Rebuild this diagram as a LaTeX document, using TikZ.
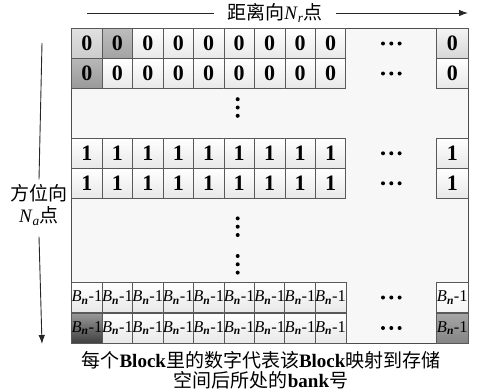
\documentclass[tikz,border=0pt]{standalone}
\usepackage{fontspec}
\setmainfont{Liberation Serif}
\newfontfamily\cjk{Noto Sans CJK SC}
\usetikzlibrary{arrows.meta}
\newcommand\bnlabel{\textit{B}\textsubscript{\textbf{\textit{n}}}-1}
\begin{document}
\begin{tikzpicture}[x=1pt,y=-1pt,
  cell/.style={draw=black!65, line width=0.6pt, inner sep=0pt,
    minimum width=30.45pt, minimum height=30pt,
    top color=white, bottom color=black!9,
    font=\fontsize{22}{22}\selectfont\bfseries},
  lastcell/.style={cell, minimum width=31.5pt},
  bncell/.style={font=\fontsize{16.5}{16.5}\selectfont},
  dot/.style={circle, fill=black, inner sep=0pt, minimum size=4pt},
  lbl/.style={font=\fontsize{19}{22}\selectfont, inner sep=0pt, align=center},
  axis/.style={line width=0.9pt, black!85},
  tip/.style={-{Latex[length=9pt,width=6.5pt]}}
]
\useasboundingbox (0,0) rectangle (479,391);

% frame
\node[draw=black!70, line width=0.8pt, fill=black!3, inner sep=0pt,
  minimum width=396.6pt, minimum height=315pt] (frame) at (270,185.8) {};

% row a (first row of 0)
\node[cell, top color=black!12, bottom color=black!20] (a1) at (86.9,43.5) {0};
\node[cell, top color=black!26, bottom color=black!36] (a2) at (117.4,43.5) {0};
\foreach \i in {3,...,9}{
  \node[cell] (a\i) at ({71.7+15.225+(\i-1)*30.45},43.5) {0};
}
\node[lastcell, top color=black!4, bottom color=black!16] (alast) at (452.3,43.5) {0};
% row b
\node[cell, top color=black!28, bottom color=black!40] (b1) at (86.9,73.5) {0};
\foreach \i in {2,...,9}{
  \node[cell] (b\i) at ({71.7+15.225+(\i-1)*30.45},73.5) {0};
}
\node[lastcell] (blast) at (452.3,73.5) {0};
% rows c, d (1)
\foreach \r/\y in {c/153.3, d/183.3}{
  \foreach \i in {1,...,9}{
    \node[cell] (\r\i) at ({71.7+15.225+(\i-1)*30.45},\y) {1};
  }
  \node[lastcell] (\r last) at (452.3,\y) {1};
}
% rows e, f (B_n - 1)
\foreach \i in {1,...,9}{
  \node[cell, bncell] (e\i) at ({71.7+15.225+(\i-1)*30.45},297.5) {\bnlabel};
}
\node[lastcell, bncell, bottom color=black!4] (elast) at (452.3,297.5) {\bnlabel};
\node[cell, bncell, top color=black!40, bottom color=black!75] (f1) at (86.9,328) {\bnlabel};
\foreach \i in {2,...,9}{
  \node[cell, bncell] (f\i) at ({71.7+15.225+(\i-1)*30.45},328) {\bnlabel};
}
\node[lastcell, bncell, top color=black!35, bottom color=black!48] (flast) at (452.3,328) {\bnlabel};

% horizontal ellipses
\foreach \r/\y in {a/43.5, b/73.5, c/153.3, d/183.3, e/297.5, f/328}{
  \foreach \k/\x in {1/383, 2/391.3, 3/399.6}{
    \node[dot] (h\r\k) at (\x,\y) {};
  }
}
% vertical ellipses
\foreach \s/\yc in {1/107.5, 2/226.7, 3/264.3}{
  \foreach \k/\d in {1/-8.3, 2/0, 3/8.3}{
    \node[dot] (v\s\k) at (237.7,\yc+\d) {};
  }
}

% top axis
\node[lbl] (toplbl) at (275,13) {{\cjk 距离向}\textit{N}\textsubscript{\textit{r}}{\cjk 点}};
\coordinate (tl) at (87,13);
\coordinate (tr) at (468,13);
\draw[axis] (tl) -- ([xshift=-13pt]toplbl.west);
\draw[axis, tip] ([xshift=13pt]toplbl.east) -- (tr);

% left axis
\node[lbl] (leftlbl) at (39,205) {{\cjk 方位向}\\\textit{N}\textsubscript{\textit{a}}{\cjk 点}};
\coordinate (lt) at (42,43);
\coordinate (lb) at (42,344);
\draw[axis] (lt) -- ([yshift=5pt]leftlbl.north);
\draw[axis, tip] ([yshift=-11pt]leftlbl.south) -- (lb);

% caption
\node[lbl, font=\fontsize{19}{20.5}\selectfont] (caption) at (261,370)
  {{\cjk 每个}\textbf{Block}{\cjk 里的数字代表该}\textbf{Block}{\cjk 映射到存储}\\
   {\cjk 空间后所处的}\textbf{bank}{\cjk 号}};
\end{tikzpicture}
\end{document}
